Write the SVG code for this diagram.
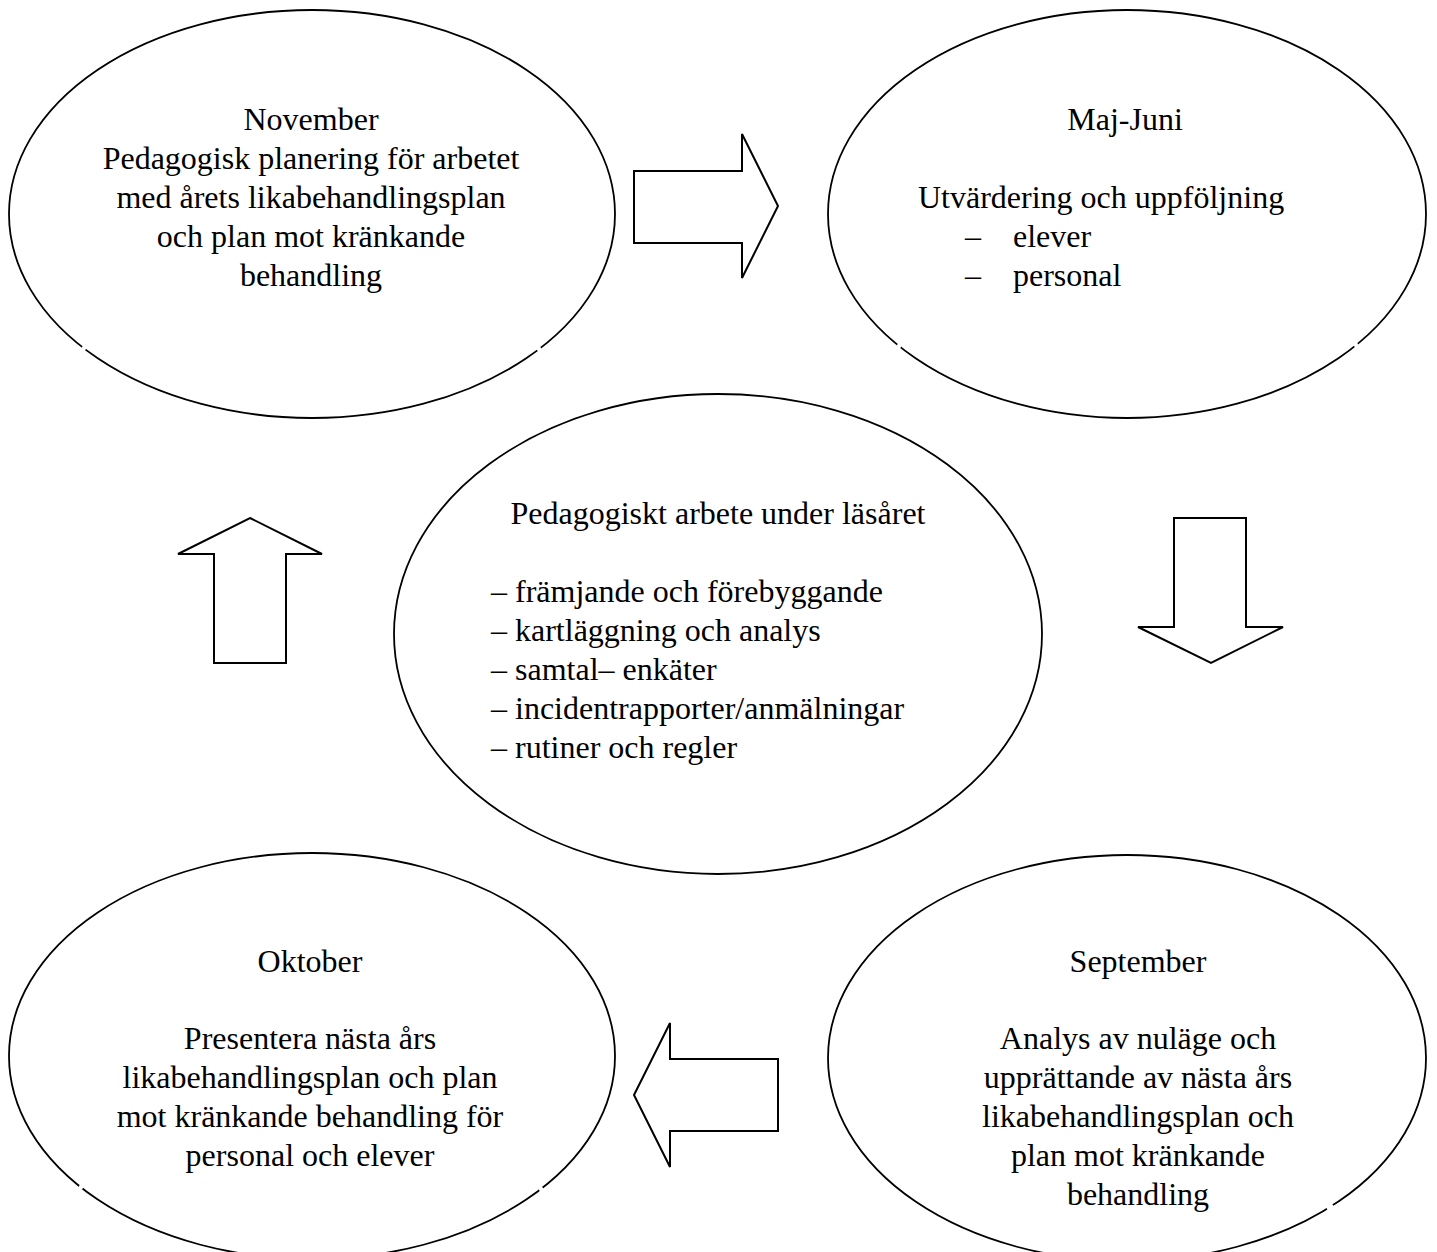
<svg xmlns="http://www.w3.org/2000/svg" width="1437" height="1252" viewBox="0 0 1437 1252">
<style>
.e{fill:none;stroke:#000;stroke-width:1.8}
.a{fill:#fff;stroke:#000;stroke-width:2;stroke-linejoin:miter}
.g{fill:#fff;stroke:none}
text{font-family:"Liberation Serif","Times New Roman",serif;font-size:32px;fill:#000}
.c{text-anchor:middle}
</style>
<rect width="1437" height="1252" fill="#fff"/>
<g id="connectors">
<path id="arrow-right" class="a" d="M634,171 H742 V134 L778,206 L742,278 V243 H634 Z"/>
<path id="arrow-down" class="a" d="M1174,518 H1246 V627 H1283 L1211,663 L1138,627 H1174 Z"/>
<path id="arrow-left" class="a" d="M634,1095 L670,1023 V1059 H778 V1131 H670 V1167 Z"/>
<path id="arrow-up" class="a" d="M250,518 L322,554 H286 V663 H214 V554 H178 Z"/>
</g>
<g id="node-november">
<ellipse class="e" cx="312" cy="214" rx="303" ry="204"/>
<circle class="g" cx="84" cy="348" r="2.2"/><circle class="g" cx="539" cy="349" r="2.2"/>
<text class="c" x="311" y="130">November</text>
<text class="c" x="311" y="169">Pedagogisk planering för arbetet</text>
<text class="c" x="311" y="208">med årets likabehandlingsplan</text>
<text class="c" x="311" y="247">och plan mot kränkande</text>
<text class="c" x="311" y="286">behandling</text>
</g>
<g id="node-majjuni">
<ellipse class="e" cx="1127" cy="214" rx="299" ry="204"/>
<circle class="g" cx="899" cy="346" r="2.2"/><circle class="g" cx="1356" cy="345" r="2.2"/>
<text class="c" x="1125" y="130">Maj-Juni</text>
<text x="918" y="208">Utvärdering och uppföljning</text>
<text x="965" y="247">–</text><text x="1013" y="247">elever</text>
<text x="965" y="286">–</text><text x="1013" y="286">personal</text>
</g>
<g id="node-center">
<ellipse class="e" cx="718" cy="634" rx="324" ry="240"/>
<text class="c" x="718" y="524">Pedagogiskt arbete under läsåret</text>
<text x="491" y="602">– främjande och förebyggande</text>
<text x="491" y="641">– kartläggning och analys</text>
<text x="491" y="680">– samtal– enkäter</text>
<text x="491" y="719">– incidentrapporter/anmälningar</text>
<text x="491" y="758">– rutiner och regler</text>
</g>
<g id="node-oktober">
<ellipse class="e" cx="312" cy="1056" rx="303" ry="203"/>
<circle class="g" cx="81" cy="1187" r="2.2"/><circle class="g" cx="541" cy="1189" r="2.2"/>
<text class="c" x="310" y="972">Oktober</text>
<text class="c" x="310" y="1049">Presentera nästa års</text>
<text class="c" x="310" y="1088">likabehandlingsplan och plan</text>
<text class="c" x="310" y="1127">mot kränkande behandling för</text>
<text class="c" x="310" y="1166">personal och elever</text>
</g>
<g id="node-september">
<ellipse class="e" cx="1127" cy="1058" rx="299" ry="203"/>
<circle class="g" cx="1330" cy="1207" r="3.5"/>
<text class="c" x="1138" y="972">September</text>
<text class="c" x="1138" y="1049">Analys av nuläge och</text>
<text class="c" x="1138" y="1088">upprättande av nästa års</text>
<text class="c" x="1138" y="1127">likabehandlingsplan och</text>
<text class="c" x="1138" y="1166">plan mot kränkande</text>
<text class="c" x="1138" y="1205">behandling</text>
</g>
</svg>
